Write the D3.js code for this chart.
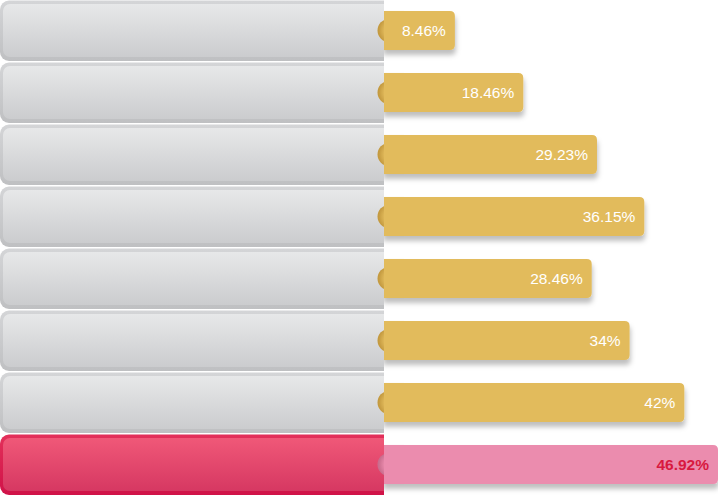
<!DOCTYPE html>
<html><head><meta charset="utf-8">
<script src="https://cdn.jsdelivr.net/npm/d3@7/dist/d3.min.js"></script>
<style>html,body{margin:0;padding:0;background:#fff;}svg{display:block;}</style>
</head><body>
<svg id="chart" width="718" height="496"></svg>
<script>
const categories = ["row1","row2","row3","row4","row5","row6","row7","row8"];
const values = [8.46, 18.46, 29.23, 36.15, 28.46, 34, 42, 46.92];
const labels = ["8.46%","18.46%","29.23%","36.15%","28.46%","34%","42%","46.92%"];
const highlightIndex = 7;

const W = 718, H = 496, panelRight = 384;
const svg = d3.select("#chart");
const defs = svg.append("defs");

function lin(id, stops){
  const g = defs.append("linearGradient").attr("id", id).attr("x1",0).attr("y1",0).attr("x2",0).attr("y2",1);
  stops.forEach(s => g.append("stop").attr("offset", s[0]).attr("stop-color", s[1]));
}
lin("grayOuter", [[0,"#d4d5d7"],[1,"#bfc0c2"]]);
lin("grayInner", [[0,"#e7e8e9"],[1,"#cbccce"]]);
lin("redOuter", [[0,"#e3305a"],[1,"#d01248"]]);
lin("redInner", [[0,"#f05878"],[1,"#d63862"]]);

const rg1 = defs.append("radialGradient").attr("id","bumpGold").attr("cx","0.65").attr("cy","0.5").attr("r","0.6");
rg1.append("stop").attr("offset",0.55).attr("stop-color","#e2bb5c");
rg1.append("stop").attr("offset",1).attr("stop-color","#c49a40");
const rg2 = defs.append("radialGradient").attr("id","bumpPink").attr("cx","0.65").attr("cy","0.5").attr("r","0.6");
rg2.append("stop").attr("offset",0.55).attr("stop-color","#eb8cae");
rg2.append("stop").attr("offset",1).attr("stop-color","#c96d8e");

const f = defs.append("filter").attr("id","shadow").attr("x","-10%").attr("y","-30%").attr("width","130%").attr("height","180%");
f.append("feDropShadow").attr("dx",1).attr("dy",5).attr("stdDeviation",2.5).attr("flood-color","#000").attr("flood-opacity",0.25);

defs.append("clipPath").attr("id","panelClip").append("rect").attr("x",0).attr("y",0).attr("width",panelRight).attr("height",H);

const y = d3.scaleBand().domain(categories).range([0, H]).padding(0);
const x = d3.scaleLinear().domain([0, d3.max(values)]).range([397, W]);

const rows = categories.map((c,i) => ({c, v: values[i], label: labels[i], hi: i === highlightIndex}));

// bars
const barH = y.bandwidth() * 0.63;
const barG = svg.append("g");
const bars = barG.selectAll("g").data(rows).join("g");
bars.append("path")
  .attr("filter","url(#shadow)")
  .attr("fill", d => d.hi ? "#eb8cae" : "#e2bb5c")
  .attr("d", d => {
    const x0 = panelRight - 2, x1 = x(d.v), y0 = y(d.c) + (y.bandwidth() - barH)/2 - 0.5, y1 = y0 + barH, r = 5;
    return `M${x0},${y0}H${x1-r}Q${x1},${y0} ${x1},${y0+r}V${y1-r}Q${x1},${y1} ${x1-r},${y1}H${x0}Z`;
  });

// panels
const panelG = svg.append("g").attr("clip-path","url(#panelClip)");
const panels = panelG.selectAll("g").data(rows).join("g");
panels.append("rect")
  .attr("x",0).attr("y", d => y(d.c) + 0.5).attr("width", panelRight + 20).attr("height", y.bandwidth() - 1.5)
  .attr("rx",9).attr("fill", d => d.hi ? "url(#redOuter)" : "url(#grayOuter)");
panels.append("rect")
  .attr("x",3).attr("y", d => y(d.c) + 4).attr("width", panelRight + 20).attr("height", y.bandwidth() - 9)
  .attr("rx",7).attr("fill", d => d.hi ? "url(#redInner)" : "url(#grayInner)");

// bumps
svg.append("g").selectAll("circle").data(rows).join("circle")
  .attr("cx", 389).attr("cy", d => y(d.c) + y.bandwidth()/2 - 0.5).attr("r", 11.5)
  .attr("fill", d => d.hi ? "url(#bumpPink)" : "url(#bumpGold)");
svg.append("g").selectAll("rect").data(rows).join("rect")
  .attr("x", panelRight).attr("y", d => y(d.c) + (y.bandwidth() - barH)/2 - 0.5).attr("width", 20).attr("height", barH)
  .attr("fill", d => d.hi ? "#eb8cae" : "#e2bb5c");

// labels
svg.append("g").selectAll("text").data(rows).join("text")
  .attr("x", d => Math.min(x(d.v), W) - 9)
  .attr("y", d => y(d.c) + y.bandwidth()/2)
  .attr("dy","0.35em")
  .attr("text-anchor","end")
  .attr("font-family","'Liberation Sans', Arial, sans-serif")
  .attr("font-size", 15.5)
  .attr("font-weight", d => d.hi ? "bold" : "normal")
  .attr("fill", d => d.hi ? "#d8193f" : "#ffffff")
  .text(d => d.label);
</script>
</body></html>
